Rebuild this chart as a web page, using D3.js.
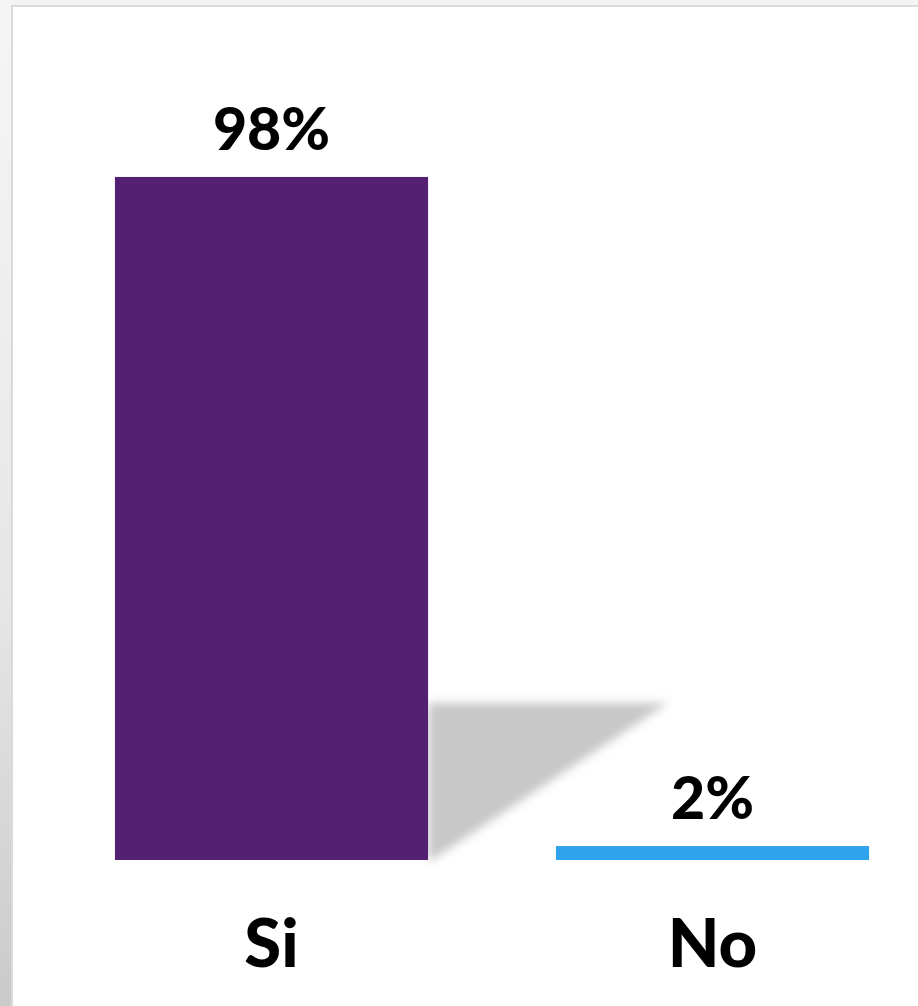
<!DOCTYPE html>
<html><head><meta charset="utf-8">
<script src="https://cdn.jsdelivr.net/npm/d3@7/dist/d3.min.js"></script>
<style>html,body{margin:0;padding:0;background:#fff;}svg{display:block;}</style>
</head><body>
<script>
const categories = ["Si", "No"];
const values = [98, 2];
const valueLabels = ["98%", "2%"];
const colors = ["#542072", "#2fa3ec"];

const W = 918, H = 1006;
const svg = d3.select("body").append("svg").attr("width", W).attr("height", H);
const defs = svg.append("defs");
const lg = defs.append("linearGradient").attr("id","leftg").attr("x1",0).attr("y1",0).attr("x2",0).attr("y2",1);
lg.append("stop").attr("offset","0%").attr("stop-color","#f6f6f6");
lg.append("stop").attr("offset","60%").attr("stop-color","#e6e6e6");
lg.append("stop").attr("offset","100%").attr("stop-color","#cacaca");
defs.append("filter").attr("id","blur").attr("x","-20%").attr("y","-20%").attr("width","140%").attr("height","140%")
  .append("feGaussianBlur").attr("stdDeviation", 5);

// frame
svg.append("rect").attr("x",0).attr("y",0).attr("width",W).attr("height",6).attr("fill","#f4f4f4");
svg.append("rect").attr("x",0).attr("y",0).attr("width",11).attr("height",H).attr("fill","url(#leftg)");
svg.append("line").attr("x1",11).attr("x2",W).attr("y1",6).attr("y2",6).attr("stroke","#dadada").attr("stroke-width",2);
svg.append("line").attr("x1",12).attr("x2",12).attr("y1",6).attr("y2",H).attr("stroke","#dadada").attr("stroke-width",2);

const x = d3.scaleBand().domain(categories).range([51, 933]).paddingInner(0.29).paddingOuter(0.145);
const y = d3.scaleLinear().domain([0, 100]).range([860, 163]);

const data = categories.map((c,i)=>({c, v: values[i], label: valueLabels[i], color: colors[i]}));

// shadow of first bar
const b0 = data[0];
const sx = x(b0.c) + x.bandwidth();
const shadowTop = y(b0.v * 0.23);
svg.append("path")
  .attr("d", `M${sx},${shadowTop} L${sx + 240},${shadowTop} L${sx + 4},${y(0)} L${sx},${y(0)} Z`)
  .attr("fill", "#c8c8c8").attr("filter","url(#blur)");

svg.selectAll("rect.bar").data(data).enter().append("rect").attr("class","bar")
  .attr("x", d=>x(d.c)).attr("width", x.bandwidth())
  .attr("y", d=>y(d.v)).attr("height", d=>y(0)-y(d.v))
  .attr("fill", d=>d.color);

svg.selectAll("text.val").data(data).enter().append("text").attr("class","val")
  .attr("x", d=>x(d.c)+x.bandwidth()/2).attr("y", d=>y(d.v)-27)
  .attr("text-anchor","middle")
  .style("font-family","Lato, 'Noto Sans', sans-serif").style("font-weight","900")
  .style("font-size","59px").attr("fill","#000").text(d=>d.label);

svg.selectAll("text.cat").data(data).enter().append("text").attr("class","cat")
  .attr("x", d=>x(d.c)+x.bandwidth()/2).attr("y", 967)
  .attr("text-anchor","middle")
  .style("font-family","Lato, 'Noto Sans', sans-serif").style("font-weight","900")
  .style("font-size","67px").attr("fill","#000").text(d=>d.c);
</script>
</body></html>
